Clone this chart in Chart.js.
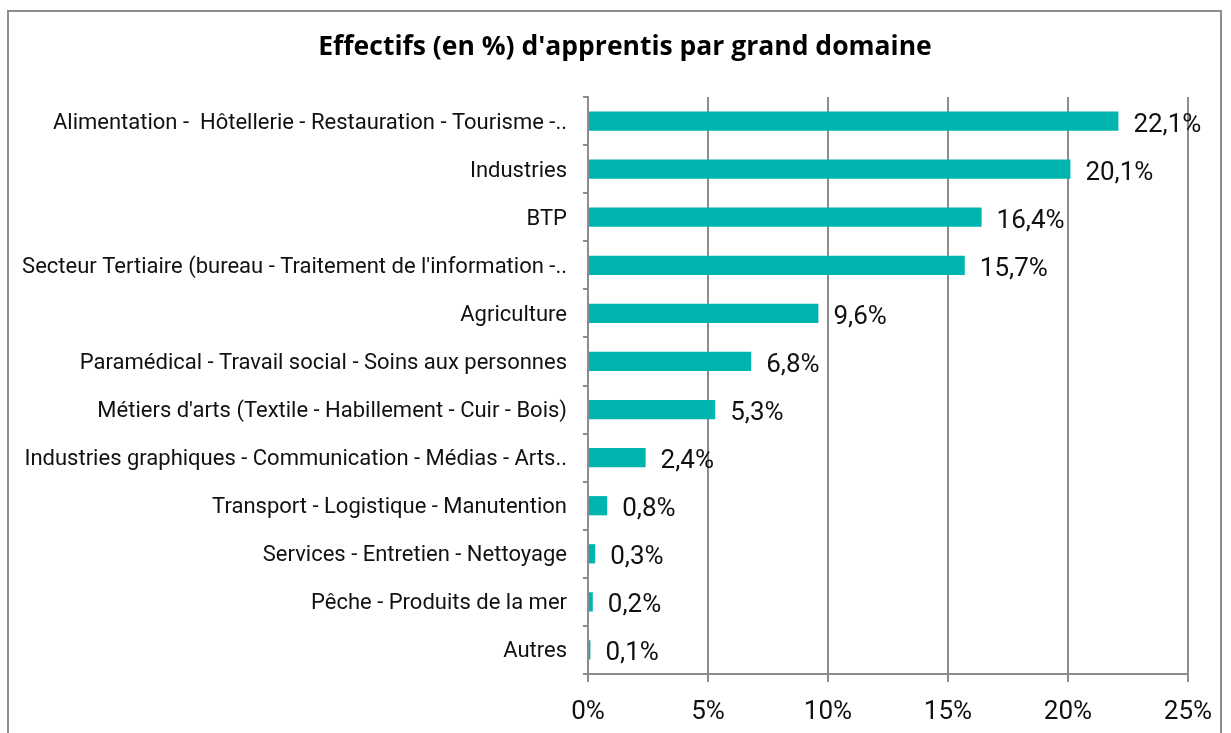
<!DOCTYPE html>
<html>
<head>
<meta charset="utf-8">
<script src="https://cdn.jsdelivr.net/npm/chart.js@4"></script>
<style>
  html, body { margin: 0; padding: 0; background: #fff; }
  #wrap { position: relative; width: 1231px; height: 733px; }
</style>
</head>
<body>
<div id="wrap"><canvas id="c" width="1231" height="733"></canvas></div>
<script>
const titleText = "Effectifs (en %) d'apprentis par grand domaine";
const categories = [
  "Alimentation -  Hôtellerie - Restauration - Tourisme -..",
  "Industries",
  "BTP",
  "Secteur Tertiaire (bureau - Traitement de l'information -..",
  "Agriculture",
  "Paramédical - Travail social - Soins aux personnes",
  "Métiers d'arts (Textile - Habillement - Cuir - Bois)",
  "Industries graphiques - Communication - Médias - Arts..",
  "Transport - Logistique - Manutention",
  "Services - Entretien - Nettoyage",
  "Pêche - Produits de la mer",
  "Autres"
];
const values = [22.1, 20.1, 16.4, 15.7, 9.6, 6.8, 5.3, 2.4, 0.8, 0.3, 0.2, 0.1];
const xTicks = [0, 5, 10, 15, 20, 25];

const GRID = '#8c8c8c';
const FONT = 'Roboto';

const framePlugin = {
  id: 'frame',
  afterLayout(chart) {
    // centre the title over the same span as the reference
    if (chart.titleBlock) chart.titleBlock.left += 52;
  },
  beforeDraw(chart) {
    const ctx = chart.ctx;
    ctx.save();
    ctx.fillStyle = '#fff';
    ctx.fillRect(0, 0, chart.width, chart.height);
    ctx.strokeStyle = '#8c8c8c';
    ctx.lineWidth = 2;
    ctx.strokeRect(8, 11, 1213, 760);
    ctx.restore();
  }
};

const labelPlugin = {
  id: 'barLabels',
  afterDatasetsDraw(chart) {
    const ctx = chart.ctx;
    const meta = chart.getDatasetMeta(0);
    ctx.save();
    ctx.font = '26px ' + FONT;
    ctx.fillStyle = '#111';
    ctx.textAlign = 'left';
    ctx.textBaseline = 'middle';
    meta.data.forEach((bar, i) => {
      const txt = values[i].toFixed(1).replace('.', ',') + '%';
      ctx.fillText(txt, bar.x + 15, bar.y + 4);
    });
    ctx.restore();
  }
};

new Chart(document.getElementById('c'), {
  type: 'bar',
  data: {
    labels: categories,
    datasets: [{
      data: values,
      backgroundColor: '#00b5ad',
      borderWidth: 0,
      categoryPercentage: 1,
      barPercentage: 0.4
    }]
  },
  options: {
    indexAxis: 'y',
    responsive: false,
    animation: false,
    layout: { padding: { left: 10, right: 43, top: 0, bottom: 0 } },
    plugins: {
      legend: { display: false },
      tooltip: { enabled: false },
      title: {
        display: true,
        text: titleText,
        color: '#000',
        font: { family: 'Open Sans', size: 26.5, weight: 'bold' },
        padding: { top: 32, bottom: 33.2 }
      }
    },
    scales: {
      x: {
        min: 0,
        max: 25,
        afterBuildTicks(scale) { scale.ticks = xTicks.map(v => ({ value: v })); },
        afterFit(scale) { scale.height = 59; },
        grid: { color: GRID, lineWidth: 2, drawTicks: true, tickLength: 8, tickColor: GRID },
        border: { display: true, color: GRID, width: 2 },
        ticks: {
          color: '#111',
          font: { family: FONT, size: 26 },
          padding: 15,
          callback: v => v + '%'
        }
      },
      y: {
        afterFit(scale) { scale.width = 578; },
        grid: { display: true, drawOnChartArea: false, drawTicks: true, tickLength: 5, color: GRID, lineWidth: 2, offset: true },
        border: { display: true, color: GRID, width: 2 },
        ticks: {
          color: '#111',
          font: { family: FONT, size: 22 },
          padding: 16,
          labelOffset: 2,
          autoSkip: false
        }
      }
    }
  },
  plugins: [framePlugin, labelPlugin]
});
</script>
</body>
</html>
